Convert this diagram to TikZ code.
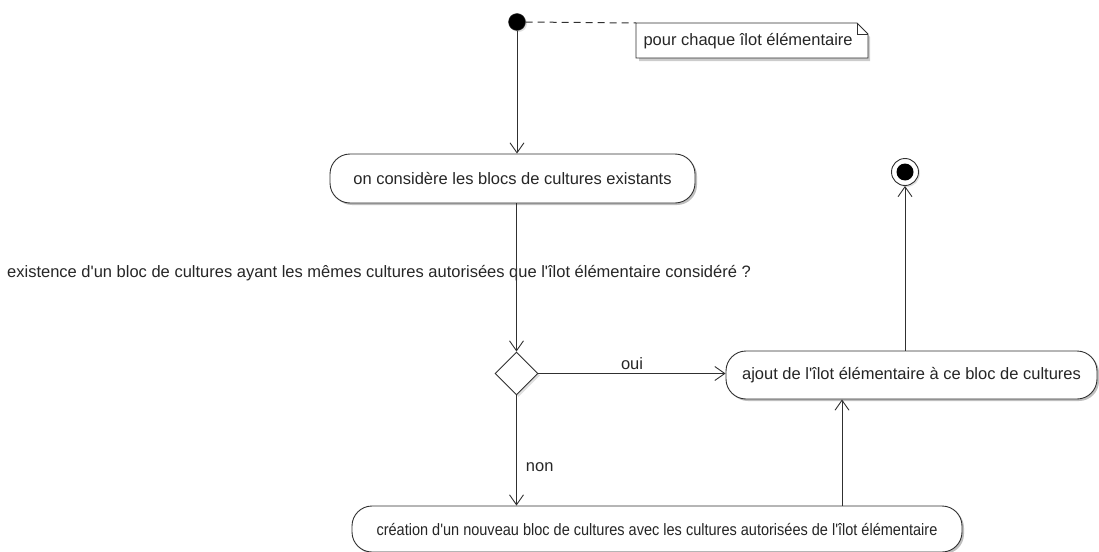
\documentclass[tikz,border=0pt]{standalone}
\usepackage{fontspec}
\setmainfont{Liberation Sans}[Ligatures=TeXOff]
\usetikzlibrary{arrows.meta,shapes.geometric,shadows,calc}
\definecolor{lin}{HTML}{303030}
\tikzset{
  every node/.style={font=\fontsize{16.5}{19}\selectfont, text=black!85},
  act/.style={draw=lin, line width=0.9pt, fill=white, rounded corners=20pt, inner sep=0pt,
     drop shadow={shadow xshift=2pt, shadow yshift=-2pt, opacity=0.25, fill=black}},
  flow/.style={draw=lin, line width=0.9pt, -{Straight Barb[length=10pt,width=14pt,line width=0.9pt]}},
  lbl/.style={inner sep=1pt},
}
\begin{document}
\begin{tikzpicture}[x=1pt,y=-1pt]
\useasboundingbox (0,0) rectangle (1099,551);
% start
\node[circle, fill=black, draw=lin, minimum size=17pt, inner sep=0pt,
  drop shadow={shadow xshift=1.5pt, shadow yshift=-1.5pt, opacity=0.25}] (start) at (517,22) {};
% note
\coordinate (nA) at (636,23);
\fill[black, opacity=0.2] (639,26) -- (859,26) -- (870,37) -- (870,61) -- (639,61) -- cycle;
\draw[lin, line width=0.9pt, fill=white] (636,23) -- (857,23) -- (868,34) -- (868,58) -- (636,58) -- cycle;
\draw[lin, line width=0.9pt] (857,23) -- (857,34) -- (868,34);
\node[anchor=west] (note) at (640,41) {pour chaque îlot élémentaire};
\draw[lin, line width=1pt, dash pattern=on 7pt off 5pt] (start.east) -- (nA);
% actions
\node[act, minimum width=365pt, minimum height=49pt] (a1) at (512.5,178.5) {on considère les blocs de cultures existants};
\node[diamond, draw=lin, line width=0.9pt, fill=white, minimum width=43pt, minimum height=43pt, inner sep=0pt,
  drop shadow={shadow xshift=2pt, shadow yshift=-2pt, opacity=0.25}] (d) at (516.5,373.5) {};
\node[act, minimum width=371pt, minimum height=48pt] (a2) at (911.5,375) {ajout de l'îlot élémentaire à ce bloc de cultures};
\node[act, minimum width=610pt, minimum height=46pt] (a3) at (657,529) {\scalebox{0.88}[1]{création d'un nouveau bloc de cultures avec les cultures autorisées de l'îlot élémentaire}};
% end
\node[circle, draw=lin, line width=0.9pt, fill=white, minimum size=27pt, inner sep=0pt,
  drop shadow={shadow xshift=1.5pt, shadow yshift=-1.5pt, opacity=0.25}] (end) at (905,172) {};
\node[circle, fill=black, minimum size=17pt, inner sep=0pt] (endin) at (end.center) {};
% question label
\node[anchor=west, inner sep=0pt] (q) at (7,273) {existence d'un bloc de cultures ayant les mêmes cultures autorisées que l'îlot élémentaire considéré ?};
% flows
\draw[flow] (start) -- (a1.north -| start);
\draw[flow] (a1.south -| d.north) -- (d.north);
\draw[flow] (d.east) -- node[lbl, above=2pt] {oui} (d.east -| a2.west);
\draw[flow] (d.south) -- node[lbl, right=8pt, pos=0.65] {non} (a3.north -| d.south);
\coordinate (c3) at (842,0);
\draw[flow] (a3.north -| c3) -- (a2.south -| c3);
\draw[flow] (a2.north -| end.south) -- (end.south);
\end{tikzpicture}
\end{document}
